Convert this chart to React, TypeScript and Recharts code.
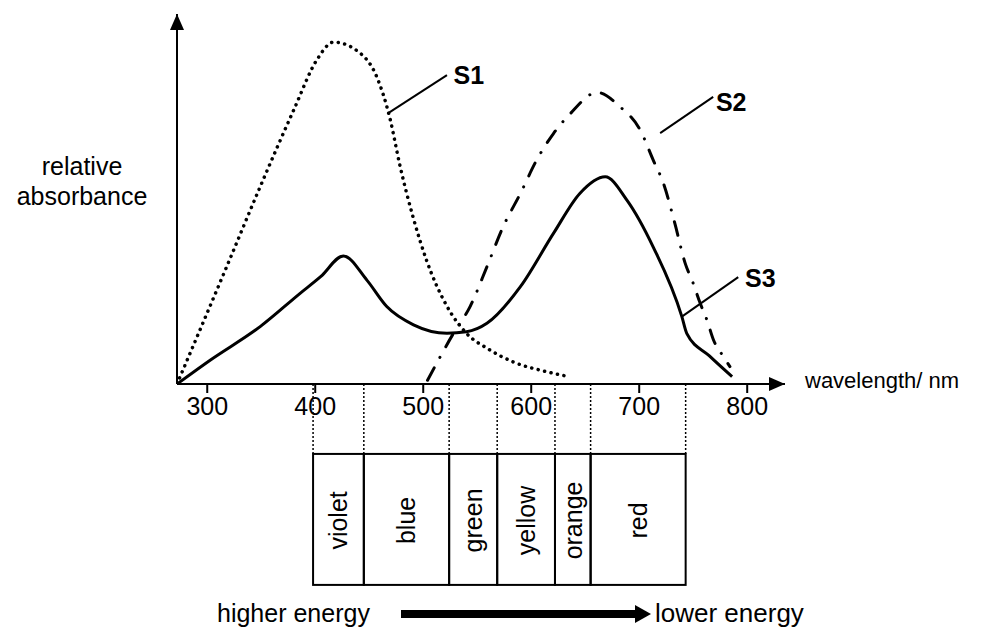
import React from 'react'
import {
  ComposedChart, Line, XAxis, YAxis, ReferenceArea, ReferenceLine, ReferenceDot,
} from 'recharts'

// wavelength (nm) / relative absorbance
const S1_NM  = [272, 318, 349, 380, 401.5, 417, 441.7, 457, 469, 478.7, 490.7, 503, 522, 540, 560, 583, 614.5, 634.5]
const S1_VAL = [0, 31.7, 53.3, 74, 87.6, 92.4, 89.4, 83, 72, 58.7, 45, 33.5, 21, 13.7, 9.5, 6, 3.3, 2]

const S2_NM  = [504, 528, 543.5, 559, 574, 590, 605, 620.6, 636, 661, 682, 701, 713, 722.5, 733, 742.6, 750, 756.5, 762.7, 768.8, 778, 784]
const S2_VAL = [1, 13.7, 21, 31.7, 42.5, 51.5, 60.5, 67.7, 73, 78.8, 75, 68.6, 60.5, 54.2, 43.4, 32.6, 27.2, 21.8, 17.3, 11.9, 7.4, 4.7]

const S3_NM  = [272, 303, 349, 386, 405, 426, 448, 466, 491, 522, 540, 559, 590, 620.6, 645, 668.5, 688.6, 713, 739.5, 744, 765, 786]
const S3_VAL = [0, 6.5, 15.5, 24.5, 29, 34.6, 28, 21, 16, 13.7, 14.1, 16.4, 26.3, 40.7, 51.5, 56, 49.7, 37, 18.2, 13.7, 7.6, 2]

const TICKS = [300, 400, 500, 600, 700, 800]

const BAND_NAMES = ['violet', 'blue', 'green', 'yellow', 'orange', 'red']
const BAND_EDGES = [398, 445, 524, 568.5, 622, 655, 743]

const toRows = (xs: number[], ys: number[]) => xs.map((nm, i) => ({ nm, v: ys[i] }))
const s1 = toRows(S1_NM, S1_VAL)
const s2 = toRows(S2_NM, S2_VAL)
const s3 = toRows(S3_NM, S3_VAL)

const FONT = '"Liberation Sans", Arial, sans-serif'
const X_DOMAIN: [number, number] = [272, 835]
const BOX_TOP = -18.9
const BOX_BOTTOM = -54.3

const LEADERS = [
  { name: 'S1', from: [467.6, 73.2], to: [522, 83.5], text: [528, 83.5] },
  { name: 'S2', from: [719.4, 67.8], to: [768.5, 77.6], text: [771, 76.3] },
  { name: 'S3', from: [739.5, 18.2], to: [791.7, 28.9], text: [798, 28.6] },
]

function BandCell(props: any) {
  const { x, y, width, height, name } = props
  const cx = x + width / 2
  const cy = y + height / 2 + 1
  return (
    <g>
      <rect x={x} y={y} width={width} height={height} fill="none" stroke="#000" strokeWidth={2} />
      <text
        x={cx}
        y={cy}
        transform={`rotate(-90 ${cx} ${cy})`}
        textAnchor="middle"
        dominantBaseline="central"
        fontSize={25}
        fontFamily={FONT}
        fill="#000"
      >
        {name}
      </text>
    </g>
  )
}

export default function App() {
  return (
    <div style={{ position: 'absolute', left: 0, top: 0, width: 996, height: 627, background: '#fff' }}>
      <ComposedChart
        width={996}
        height={627}
        margin={{ top: 14, right: 211, left: 117, bottom: 203 }}
      >
        <XAxis
          dataKey="nm"
          type="number"
          domain={X_DOMAIN}
          ticks={TICKS}
          allowDataOverflow
          height={40}
          axisLine={{ stroke: '#000', strokeWidth: 2 }}
          tickLine={{ stroke: '#000', strokeWidth: 2 }}
          tickSize={9}
          tickMargin={4}
          tick={{ fontSize: 25, fill: '#000', fontFamily: FONT }}
          label={{
            content: ({ viewBox }: any) => (
              <text x={viewBox.x + viewBox.width + 20} y={viewBox.y + 4} fontSize={22} fontFamily={FONT} fill="#000">
                wavelength/ nm
              </text>
            ),
          }}
        />
        <YAxis
          type="number"
          domain={[0, 100]}
          allowDataOverflow
          width={60}
          tick={false}
          tickLine={false}
          axisLine={{ stroke: '#000', strokeWidth: 2 }}
          label={{
            content: ({ viewBox }: any) => (
              <text x={viewBox.x - 35} y={175} textAnchor="middle" fontSize={25} fontFamily={FONT} fill="#000">
                <tspan x={viewBox.x - 35} y={175}>relative</tspan>
                <tspan x={viewBox.x - 35} y={205}>absorbance</tspan>
              </text>
            ),
          }}
        />

        {/* axis arrowheads */}
        <ReferenceDot
          x={X_DOMAIN[1]} y={0} ifOverflow="visible"
          shape={(p: any) => <polygon points={`${p.cx},${p.cy} ${p.cx - 16},${p.cy - 7} ${p.cx - 16},${p.cy + 7}`} fill="#000" />}
        />
        <ReferenceDot
          x={X_DOMAIN[0]} y={100} ifOverflow="visible"
          shape={(p: any) => <polygon points={`${p.cx},${p.cy} ${p.cx - 7},${p.cy + 16} ${p.cx + 7},${p.cy + 16}`} fill="#000" />}
        />

        {/* dotted guides from the axis to the colour bands */}
        {BAND_EDGES.map((e) => (
          <ReferenceLine
            key={`g${e}`}
            segment={[{ x: e, y: 0 }, { x: e, y: BOX_TOP }]}
            ifOverflow="visible"
            stroke="#000"
            strokeWidth={1.5}
            strokeDasharray="2 2"
          />
        ))}

        {BAND_NAMES.map((name, i) => (
          <ReferenceArea
            key={name}
            x1={BAND_EDGES[i]}
            x2={BAND_EDGES[i + 1]}
            y1={BOX_BOTTOM}
            y2={BOX_TOP}
            ifOverflow="visible"
            shape={(p: any) => <BandCell {...p} name={name} />}
          />
        ))}

        <Line data={s1} dataKey="v" type="monotone" stroke="#000" strokeWidth={3.5}
          strokeDasharray="0.1 6.5" strokeLinecap="round" dot={false} isAnimationActive={false} />
        <Line data={s2} dataKey="v" type="monotone" stroke="#000" strokeWidth={3}
          strokeDasharray="14 12 0.1 12" strokeLinecap="round" dot={false} isAnimationActive={false} />
        <Line data={s3} dataKey="v" type="monotone" stroke="#000" strokeWidth={3}
          dot={false} isAnimationActive={false} />

        {LEADERS.map((l) => (
          <ReferenceLine
            key={`l${l.name}`}
            segment={[{ x: l.from[0], y: l.from[1] }, { x: l.to[0], y: l.to[1] }]}
            ifOverflow="visible"
            stroke="#000"
            strokeWidth={2}
          />
        ))}
        {LEADERS.map((l) => (
          <ReferenceDot
            key={`t${l.name}`}
            x={l.text[0]} y={l.text[1]} ifOverflow="visible"
            shape={(p: any) => (
              <text x={p.cx} y={p.cy} dominantBaseline="central" fontSize={25} fontWeight={700} fontFamily={FONT} fill="#000">
                {l.name}
              </text>
            )}
          />
        ))}
      </ComposedChart>

      <svg width={996} height={627} style={{ position: 'absolute', left: 0, top: 0, pointerEvents: 'none' }}>
        <text x={217} y={622} fontSize={25} fontFamily={FONT} fill="#000">higher energy</text>
        <rect x={401} y={610} width={236} height={8} fill="#000" />
        <polygon points="651,614 635,605 635,623" fill="#000" />
        <text x={655} y={622} fontSize={26} fontFamily={FONT} fill="#000">lower energy</text>
      </svg>
    </div>
  )
}
